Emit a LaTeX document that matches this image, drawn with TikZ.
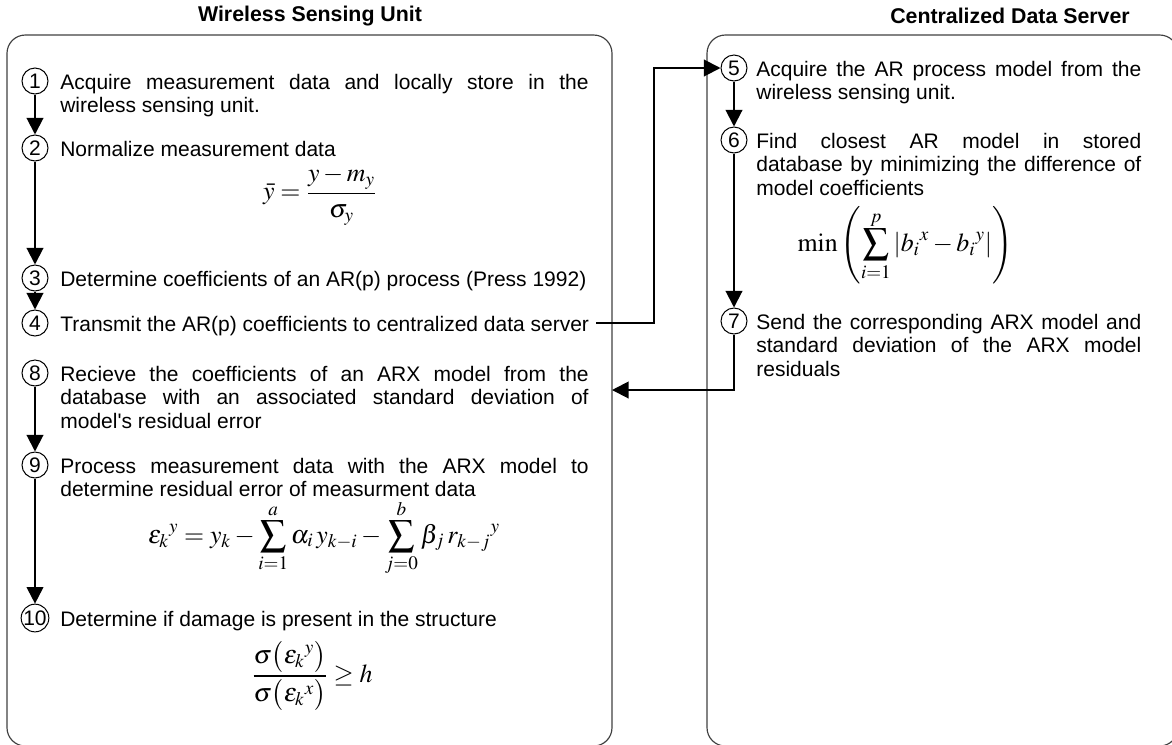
\documentclass[tikz,border=0pt]{standalone}
\usepackage{mathptmx}
\usepackage[no-math]{fontspec}
\setmainfont{Liberation Sans}
\usetikzlibrary{arrows.meta,calc}

\begin{document}
\begin{tikzpicture}[x=0.6pt,y=-0.6pt,
  panel/.style={draw=black!75,line width=0.7pt,rounded corners=11pt},
  head/.style={font=\fontsize{12.8}{15}\selectfont\bfseries},
  num/.style={draw,circle,line width=0.6pt,minimum size=15.6pt,inner sep=0pt,font=\fontsize{12.6}{14}\selectfont},
  stepline/.style={anchor=north west,yshift=4.5pt,inner sep=0pt,font=\fontsize{12.6}{14.1}\selectfont},
  stepl/.style={stepline,text width=317pt,align=justify},
  stepr/.style={stepl,text width=231pt},
  eqn/.style={inner sep=0pt,font=\fontsize{15.5}{18}\selectfont},
  flow/.style={line width=1.2pt,-{Triangle[width=10pt,length=10pt]}}]

\useasboundingbox (0,0) rectangle (1172,744);

\node[head] (wsu) at (310,16) {Wireless Sensing Unit};
\node[head] (cds) at (1010,16) {Centralized Data Server};
\draw[panel] (7,35) rectangle (612,746);
\draw[panel] (707,35) rectangle (1178,746);
\coordinate (inbox) at (612,390);
\coordinate (bend) at (654,68);

\node[num] (c1) at (35,81) {1};
\node[stepl] (t1) at (60,81) {Acquire measurement data and locally store in the\linebreak wireless sensing unit.};
\node[num] (c2) at (35,148) {2};
\node[stepline] (t2) at (60,148) {Normalize measurement data};
\node[eqn] (e2) at (320,196) {$\displaystyle \bar{y}=\frac{y-m_y}{\sigma_y}$};
\node[num] (c3) at (35,278) {3};
\node[stepline] (t3) at (60,278) {Determine coefficients of an AR(p) process (Press 1992)};
\node[num] (c4) at (35,323) {4};
\node[stepline] (t4) at (60,323) {Transmit the AR(p) coefficients to centralized data server};
\node[num] (c8) at (35,373) {8};
\node[stepl] (t8) at (60,373) {Recieve the coefficients of an ARX model from the\linebreak database with an associated standard deviation of\linebreak model\textquotesingle s residual error};
\node[num] (c9) at (35,465) {9};
\node[stepl] (t9) at (60,465) {Process measurement data with the ARX model to\linebreak determine residual error of measurment data};
\node[eqn] (e9) at (324,538) {$\displaystyle \varepsilon_k{}^{y}=y_k-\sum_{i=1}^{a}\alpha_i\,y_{k-i}-\sum_{j=0}^{b}\beta_j\,r_{k-j}{}^{y}$};
\node[num] (c10) at (35,618) {10};
\node[stepline] (t10) at (60,618) {Determine if damage is present in the structure};
\node[eqn] (e10) at (312,676) {$\displaystyle \frac{\sigma\bigl(\varepsilon_k{}^{y}\bigr)}{\sigma\bigl(\varepsilon_k{}^{x}\bigr)}\geq h$};

\node[num] (c5) at (734,68) {5};
\node[stepr] (t5) at (756,68) {Acquire the AR process model from the\linebreak wireless sensing unit.};
\node[num] (c6) at (734,140) {6};
\node[stepr] (t6) at (756,140) {Find closest AR model in stored\linebreak database by minimizing the difference of\linebreak model coefficients};
\node[eqn] (e6) at (905,245) {$\displaystyle \min\left(\sum_{i=1}^{p}\left|b_i{}^{x}-b_i{}^{y}\right|\right)$};
\node[num] (c7) at (734,321) {7};
\node[stepr] (t7) at (756,321) {Send the corresponding ARX model and\linebreak standard deviation of the ARX model\linebreak residuals};

\draw[flow] (c1) -- (c2);
\draw[flow] (c2) -- (c3);
\draw[flow] (c3) -- (c4);
\draw[flow] (c8) -- (c9);
\draw[flow] (c9) -- (c10);
\draw[flow] (c5) -- (c6);
\draw[flow] (c6) -- (c7);
\draw[flow] ($(t4.east |- c4)+(7,0)$) -| (bend) -- (c5);
\draw[flow] (c7) |- (inbox);
\end{tikzpicture}
\end{document}
